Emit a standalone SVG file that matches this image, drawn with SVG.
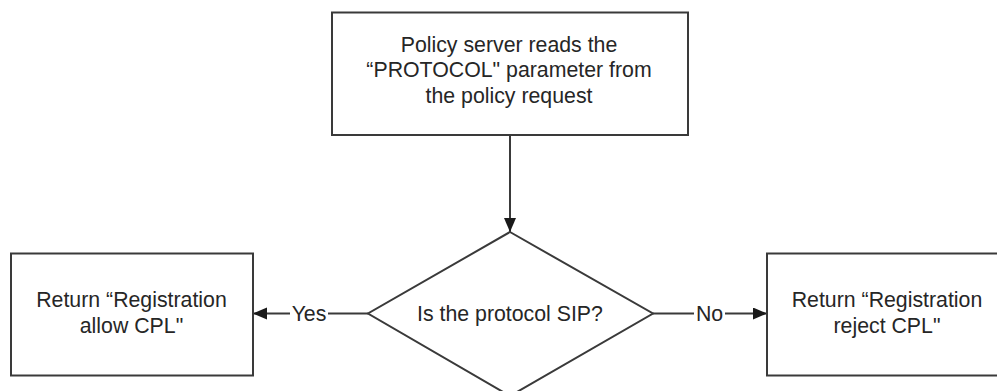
<svg xmlns="http://www.w3.org/2000/svg" width="997" height="391" viewBox="0 0 997 391">
<style>
.box{fill:#fff;stroke:#3a3a3a;stroke-width:2}
.t{font-family:"Liberation Sans",Arial,sans-serif;font-size:21.3px;fill:#262626;text-anchor:middle}
.c{stroke:#3a3a3a;stroke-width:2;fill:none}
.bg{fill:#fff}
</style>
<defs>
<marker id="arr" markerUnits="userSpaceOnUse" markerWidth="15" markerHeight="13" refX="14" refY="6" orient="auto">
<path d="M0,0 L14,6 L0,12 Z" fill="#1a1a1a"/>
</marker>
</defs>
<rect x="0" y="0" width="997" height="391" fill="#fff"/>
<g id="connectors">
<line class="c" x1="510" y1="135" x2="510" y2="232" marker-end="url(#arr)"/>
<line class="c" x1="368" y1="313.5" x2="253" y2="313.5" marker-end="url(#arr)"/>
<line class="c" x1="653" y1="313.5" x2="767" y2="313.5" marker-end="url(#arr)"/>
<rect class="bg" x="290" y="302" width="38" height="22"/>
<text class="t" x="309" y="320.5">Yes</text>
<rect class="bg" x="694" y="302" width="31" height="22"/>
<text class="t" x="709.5" y="320.5">No</text>
</g>
<g id="n-read">
<rect class="box" x="332" y="12.5" width="356" height="122.5"/>
<text class="t" x="509" y="51.8">Policy server reads the</text>
<text class="t" x="509" y="77.4">“PROTOCOL" parameter from</text>
<text class="t" x="509" y="103">the policy request</text>
</g>
<g id="n-decision">
<polygon class="box" points="510,232 653,313.5 510,396 368,313.5"/>
<text class="t" x="510" y="320.5">Is the protocol SIP?</text>
</g>
<g id="n-allow">
<rect class="box" x="11" y="253.5" width="242" height="122"/>
<text class="t" x="131.5" y="307.3">Return “Registration</text>
<text class="t" x="131.5" y="332.7">allow CPL"</text>
</g>
<g id="n-reject">
<rect class="box" x="767" y="253.5" width="242" height="122"/>
<text class="t" x="887" y="307.3">Return “Registration</text>
<text class="t" x="887" y="332.7">reject CPL"</text>
</g>
</svg>
